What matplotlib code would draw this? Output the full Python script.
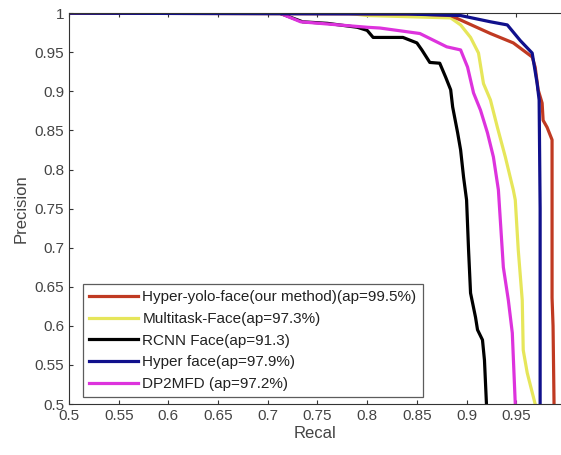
import matplotlib
matplotlib.use("Agg")
import matplotlib.pyplot as plt

plt.rcParams['font.family'] = ['Liberation Sans', 'DejaVu Sans']

# precision-recall curves
red_r = [0.5, 0.85, 0.884, 0.924, 0.947, 0.966, 0.969, 0.972, 0.976, 0.977, 0.981, 0.986, 0.986, 0.987, 0.988]
red_p = [1.0, 0.999, 0.997, 0.974, 0.962, 0.944, 0.931, 0.902, 0.885, 0.863, 0.854, 0.838, 0.636, 0.60, 0.5]

yel_r = [0.5, 0.78, 0.80, 0.884, 0.894, 0.904, 0.912, 0.917, 0.924, 0.931, 0.939, 0.947, 0.949,
         0.952, 0.956, 0.957, 0.961, 0.969]
yel_p = [1.0, 1.0, 0.997, 0.994, 0.985, 0.969, 0.949, 0.91, 0.889, 0.854, 0.816, 0.774, 0.761,
         0.697, 0.633, 0.569, 0.54, 0.5]

blk_r = [0.5, 0.712, 0.735, 0.76, 0.79, 0.80, 0.806, 0.836, 0.85, 0.855, 0.863, 0.873, 0.879,
         0.884, 0.886, 0.891, 0.894, 0.897, 0.9, 0.902, 0.904, 0.909, 0.911, 0.916, 0.918, 0.92]
blk_p = [1.0, 1.0, 0.989, 0.987, 0.982, 0.978, 0.969, 0.969, 0.962, 0.953, 0.937, 0.936, 0.918,
         0.902, 0.88, 0.847, 0.825, 0.79, 0.761, 0.697, 0.642, 0.611, 0.595, 0.582, 0.556, 0.5]

blu_r = [0.5, 0.84, 0.894, 0.924, 0.941, 0.954, 0.966, 0.971, 0.973, 0.974, 0.974]
blu_p = [1.0, 0.999, 0.997, 0.989, 0.985, 0.965, 0.949, 0.91, 0.889, 0.75, 0.5]

mag_r = [0.5, 0.712, 0.733, 0.80, 0.813, 0.853, 0.88, 0.894, 0.901, 0.907, 0.914, 0.921, 0.927,
         0.932, 0.937, 0.942, 0.946, 0.949]
mag_p = [1.0, 1.0, 0.989, 0.982, 0.981, 0.974, 0.957, 0.953, 0.931, 0.898, 0.876, 0.847, 0.816,
         0.774, 0.675, 0.633, 0.591, 0.5]

labels = ['Hyper-yolo-face(our method)(ap=99.5%)', 'Multitask-Face(ap=97.3%)',
          'RCNN Face(ap=91.3)', 'Hyper face(ap=97.9%)', 'DP2MFD (ap=97.2%)']

fig = plt.figure(figsize=(5.61, 4.55), dpi=100)
ax = fig.add_axes([0.123, 0.112, 0.877, 0.859])

lw = 2.3
l_blk, = ax.plot(blk_r, blk_p, color='black', lw=lw)
l_mag, = ax.plot(mag_r, mag_p, color='#dd33dd', lw=lw)
l_yel, = ax.plot(yel_r, yel_p, color='#e6e65a', lw=lw)
l_red, = ax.plot(red_r, red_p, color='#c03a22', lw=lw)
l_blu, = ax.plot(blu_r, blu_p, color='#10108c', lw=lw)

ax.set_xlim(0.5, 0.995)
ax.set_ylim(0.5, 1.0)
ax.set_xticks([0.5, 0.55, 0.6, 0.65, 0.7, 0.75, 0.8, 0.85, 0.9, 0.95])
ax.set_xticklabels(['0.5', '0.55', '0.6', '0.65', '0.7', '0.75', '0.8', '0.85', '0.9', '0.95'])
ax.set_yticks([0.5, 0.55, 0.6, 0.65, 0.7, 0.75, 0.8, 0.85, 0.9, 0.95, 1.0])
ax.set_yticklabels(['0.5', '0.55', '0.6', '0.65', '0.7', '0.75', '0.8', '0.85', '0.9', '0.95', '1'])
ax.tick_params(direction='in', top=True, right=False, length=3, labelsize=11,
               labelcolor='#444444', color='#333333')
ax.spines['right'].set_visible(False)
for s in ['left', 'bottom', 'top']:
    ax.spines[s].set_color('#333333')

ax.set_xlabel('Recal', fontsize=12, color='#444444', labelpad=2)
ax.set_ylabel('Precision', fontsize=12, color='#444444', labelpad=4)

leg = ax.legend([l_red, l_yel, l_blk, l_blu, l_mag], labels, loc='lower left',
                bbox_to_anchor=(0.028, 0.018), borderaxespad=0, fontsize=11, frameon=True,
                fancybox=False, handlelength=3.2, borderpad=0.4, labelspacing=0.5,
                handletextpad=0.3)
leg.get_frame().set_edgecolor('#333333')
leg.get_frame().set_linewidth(0.9)
for t in leg.get_texts():
    t.set_color('#222222')

fig.savefig('out.png', dpi=100)
